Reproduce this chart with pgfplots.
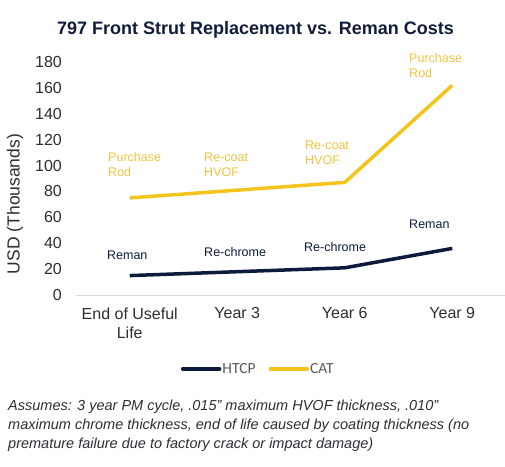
\documentclass[border=0pt]{standalone}
\usepackage{pgfplots}
\pgfplotsset{compat=1.18}
\usepackage{fontspec}
\setmainfont{Liberation Sans}
\newfontfamily\legfont{Carlito}
\definecolor{htcp}{RGB}{12,27,60}
\definecolor{cat}{RGB}{245,196,28}
\definecolor{catlbl}{RGB}{240,196,64}
\definecolor{txt}{RGB}{45,45,52}
\definecolor{navy}{RGB}{16,28,58}
\definecolor{axgray}{RGB}{217,217,217}
\definecolor{leggray}{RGB}{89,89,89}
\newcommand{\inch}{\symbol{34}}

\begin{document}
\begin{tikzpicture}[x=1pt,y=1pt]
\path[use as bounding box] (0,0) rectangle (505,-466);

% title
\node[font=\bfseries\fontsize{18}{21}\selectfont, text=navy, inner sep=0pt]
  at (255.5,-30) {797 Front Strut Replacement vs. Reman Costs};

% y label
\node[rotate=90, font=\fontsize{17.5}{20}\selectfont, text=txt, inner sep=0pt]
  at (15,-204) {USD (Thousands)};

\begin{axis}[
    at={(76pt,-295pt)}, anchor=south west,
    scale only axis, width=430pt, height=233pt,
    xmin=-0.5, xmax=3.5, ymin=0, ymax=180,
    xtick={0,1,2,3},
    xticklabels={{End of Useful\\Life},{Year 3},{Year 6},{Year 9}},
    ytick={0,20,...,180},
    axis x line*=bottom, axis y line*=left,
    x axis line style={-, draw=axgray, line width=1pt},
    y axis line style={draw=none},
    major tick length=0pt, tick style={draw=none},
    ticklabel style={font=\fontsize{16}{19}\selectfont, text=txt},
    xticklabel style={align=center, anchor=north, inner sep=0pt, yshift=-12.5pt},
    yticklabel style={anchor=east, inner sep=0pt, xshift=-14pt},
    /pgf/number format/assume math mode=true,
    clip=false,
    legend columns=2,
    legend style={at={(0.2435,-0.3176)}, anchor=west, draw=none, fill=none,
        inner sep=0pt, font=\legfont\fontsize{15.5}{18}\selectfont, text=leggray,
        nodes={inner sep=1pt},
        /tikz/every even column/.append style={column sep=12pt}},
    legend image code/.code={\draw[#1, line cap=round] (0pt,0pt) -- (37pt,0pt);},
]

% HTCP
\addplot[htcp, line width=3.5pt, line join=round] coordinates {
    (0,15) (1,18) (2,21) (3,36)
};
\addlegendentry{HTCP}

% CAT
\addplot[cat, line width=3.5pt, line join=round] coordinates {
    (0,75) (1,81) (2,87) (3,162)
};
\addlegendentry{CAT}

% point labels
\begin{scope}[every node/.style={anchor=west, align=left, inner sep=0pt,
    font=\fontsize{12.5}{15}\selectfont}]
\node[text=catlbl] at (axis cs:-0.202,101) {Purchase\\Rod};
\node[text=catlbl] at (axis cs:0.691,101) {Re-coat\\HVOF};
\node[text=catlbl] at (axis cs:1.630,109.7) {Re-coat\\HVOF};
\node[text=catlbl] at (axis cs:2.598,177.3) {Purchase\\Rod};
\node[text=htcp] at (axis cs:-0.212,30.4) {Reman};
\node[text=htcp] at (axis cs:0.691,33.5) {Re-chrome};
\node[text=htcp] at (axis cs:1.621,37.1) {Re-chrome};
\node[text=htcp] at (axis cs:2.598,54.9) {Reman};
\end{scope}
\end{axis}

% footnote
\node[anchor=north west, align=left, inner sep=0pt, text=txt,
  font=\itshape\fontsize{14.5}{19}\selectfont] at (8,-399.5)
  {Assumes: 3 year PM cycle, .015\inch{} maximum HVOF thickness, .010\inch\\
   maximum chrome thickness, end of life caused by coating thickness (no\\
   premature failure due to factory crack or impact damage)};
\end{tikzpicture}
\end{document}
